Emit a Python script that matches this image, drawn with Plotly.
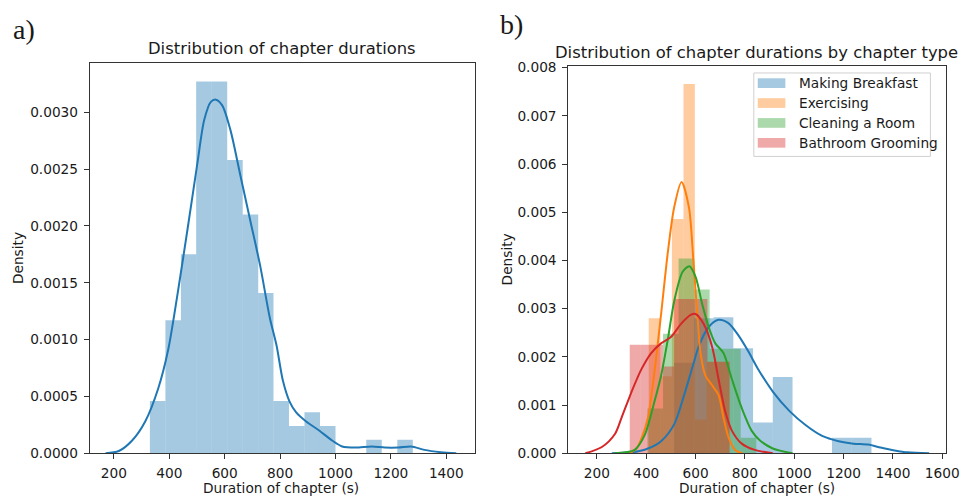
import plotly.graph_objects as go

# ---------------- panel a) all chapters ----------------
all_edges = [330, 386, 442, 497, 553, 609, 665, 721, 776, 832, 888, 944,
             1000, 1055, 1111, 1167, 1223, 1279]
all_density = [0.00046, 0.00117, 0.00175, 0.00327, 0.00327, 0.00258, 0.00210,
               0.00141, 0.00046, 0.00024, 0.00036, 0.00024, 0.0, 0.0, 0.00012,
               0.0, 0.00012]
all_kde_x = [170, 218, 265, 313, 360, 396, 431, 467, 502, 526, 550, 568, 591,
             621, 656, 692, 728, 763, 787, 810, 835, 858, 894, 941, 989, 1024,
             1072, 1131, 1178, 1226, 1273, 1321, 1380, 1436]
all_kde_y = [0.0, 0.00002, 0.00011, 0.00028, 0.00057, 0.00091, 0.00142, 0.00199,
             0.00256, 0.00293, 0.00309, 0.00311, 0.00306, 0.00284, 0.00245,
             0.00205, 0.00165, 0.00119, 0.00095, 0.00064, 0.00045, 0.00036,
             0.00028, 0.00020, 0.00011, 0.00006, 0.00005, 0.00006, 0.00005,
             0.00005, 0.00006, 0.00003, 0.00001, 0.0]

# ---------------- panel b) per chapter type ----------------
types = ["Making Breakfast", "Exercising", "Cleaning a Room", "Bathroom Grooming"]
colors = ["31,119,180", "255,127,14", "44,160,44", "214,39,40"]

breakfast_edges = [513, 593, 673, 753, 833, 913, 993, 1073, 1153, 1233, 1313]
breakfast_density = [0.00188, 0.0028, 0.00282, 0.00218, 0.00064, 0.00158,
                     0.0, 0.0, 0.00032, 0.00032]
breakfast_kde_x = [260, 340, 407, 460, 513, 553, 588, 613, 653, 693, 733, 773,
                   813, 853, 913, 980, 1047, 1113, 1180, 1240, 1300, 1350, 1407,
                   1460, 1547]
breakfast_kde_y = [0.0, 0.00002, 0.0001, 0.00025, 0.0006, 0.0012, 0.0018,
                   0.00222, 0.00262, 0.00277, 0.0027, 0.00245, 0.00212, 0.00175,
                   0.00128, 0.00088, 0.00058, 0.00036, 0.00025, 0.0002, 0.00018,
                   0.00012, 0.00006, 0.00002, 0.0]

exercise_edges = [410, 457, 504, 551, 597, 644, 691, 737]
exercise_density = [0.0028, 0.0016, 0.00486, 0.00766, 0.0007, 0.0019, 0.0019]
exercise_kde_x = [330, 360, 380, 407, 433, 460, 487, 513, 543, 573, 591, 607,
                  620, 640, 667, 693, 713, 733, 760, 790]
exercise_kde_y = [0.0, 0.0001, 0.0003, 0.00074, 0.00168, 0.00288, 0.00415,
                  0.0051, 0.00563, 0.0051, 0.0040, 0.00288, 0.00208, 0.00161,
                  0.00141, 0.00121, 0.00074, 0.00034, 0.00007, 0.0]

cleaning_edges = [405, 468, 531, 594, 657, 720, 783, 846]
cleaning_density = [0.00093, 0.00248, 0.00404, 0.0034, 0.00217, 0.00217, 0.00032]
cleaning_kde_x = [270, 353, 393, 433, 460, 487, 513, 547, 575, 600, 627, 653,
                  680, 713, 747, 787, 827, 860, 913, 993]
cleaning_kde_y = [0.0, 0.00007, 0.00037, 0.00107, 0.00161, 0.00235, 0.00315,
                  0.00376, 0.00388, 0.00366, 0.00309, 0.00262, 0.00228, 0.00208,
                  0.00154, 0.00094, 0.00047, 0.00027, 0.0001, 0.0]

grooming_edges = [333, 378, 423, 468, 513, 558, 603, 648, 693, 738]
grooming_density = [0.00225, 0.00225, 0.00225, 0.0018, 0.0032, 0.0032, 0.0032,
                    0.0019, 0.0019]
grooming_kde_x = [153, 220, 273, 300, 340, 380, 420, 460, 500, 540, 580, 600,
                  633, 667, 693, 720, 747, 787, 840, 913]
grooming_kde_y = [0.0, 0.00013, 0.0004, 0.00074, 0.00127, 0.00174, 0.00208,
                  0.00228, 0.00241, 0.00268, 0.00287, 0.00289, 0.00268, 0.00221,
                  0.00154, 0.00087, 0.00047, 0.0002, 0.00007, 0.0]

type_edges = [breakfast_edges, exercise_edges, cleaning_edges, grooming_edges]
type_density = [breakfast_density, exercise_density, cleaning_density, grooming_density]
type_kde_x = [breakfast_kde_x, exercise_kde_x, cleaning_kde_x, grooming_kde_x]
type_kde_y = [breakfast_kde_y, exercise_kde_y, cleaning_kde_y, grooming_kde_y]

FONT = "DejaVu Sans"
TXT = "#1a1a1a"
AX = "#333333"
W, H = 974, 503


def hist_bar(edges, dens, rgb, xa, ya):
    centers = [(a + b) / 2 for a, b in zip(edges[:-1], edges[1:])]
    widths = [b - a for a, b in zip(edges[:-1], edges[1:])]
    return go.Bar(x=centers, y=dens, width=widths, xaxis=xa, yaxis=ya,
                  marker=dict(color=f"rgba({rgb},0.4)", line=dict(width=0)),
                  showlegend=False, hoverinfo="skip")


def kde_line(xs, ys, rgb, xa, ya):
    return go.Scatter(x=xs, y=ys, mode="lines", xaxis=xa, yaxis=ya,
                      line=dict(color=f"rgb({rgb})", width=2, shape="spline",
                                smoothing=0.8),
                      showlegend=False, hoverinfo="skip")


fig = go.Figure()
fig.add_trace(hist_bar(all_edges, all_density, colors[0], "x", "y"))
fig.add_trace(kde_line(all_kde_x, all_kde_y, colors[0], "x", "y"))
for e, d, kx, ky, c in zip(type_edges, type_density, type_kde_x, type_kde_y, colors):
    fig.add_trace(hist_bar(e, d, c, "x2", "y2"))
    fig.add_trace(kde_line(kx, ky, c, "x2", "y2"))

axis_common = dict(showgrid=False, zeroline=False, showline=True, mirror=True,
                   linecolor=AX, linewidth=1, ticks="outside", ticklen=5,
                   tickcolor=AX, tickwidth=1,
                   tickfont=dict(family=FONT, size=13.7, color=TXT))
xaxis_common = dict(axis_common, ticklabelstandoff=2)
yaxis_common = dict(axis_common, ticklabelstandoff=3)

px_x = lambda p: p / W
px_y = lambda p: 1 - p / H

fig.update_layout(
    width=W, height=H, margin=dict(l=0, r=0, t=0, b=0),
    paper_bgcolor="white", plot_bgcolor="white", barmode="overlay",
    xaxis=dict(domain=[px_x(91), px_x(481)], range=[113, 1502],
               tickvals=[200, 400, 600, 800, 1000, 1200, 1400], anchor="y",
               **xaxis_common),
    yaxis=dict(domain=[px_y(460), px_y(58)], range=[0, 0.00343],
               tickvals=[0, 0.0005, 0.001, 0.0015, 0.002, 0.0025, 0.003],
               tickformat=".4f", anchor="x", **yaxis_common),
    xaxis2=dict(domain=[px_x(576), px_x(959)], range=[84, 1616],
                tickvals=[200, 400, 600, 800, 1000, 1200, 1400, 1600],
                anchor="y2", **xaxis_common),
    yaxis2=dict(domain=[px_y(460), px_y(61)], range=[0, 0.00803],
                tickvals=[0, 0.001, 0.002, 0.003, 0.004, 0.005, 0.006, 0.007, 0.008],
                tickformat=".3f", anchor="x2", **yaxis_common),
)

ann = []


def text(x, y, s, size=13.7, angle=0, family=FONT, xanchor="center", yanchor="middle"):
    ann.append(dict(x=px_x(x), y=px_y(y), xref="paper", yref="paper", text=s,
                    showarrow=False, textangle=angle, xanchor=xanchor,
                    yanchor=yanchor, font=dict(family=family, size=size, color=TXT)))


# panel labels, titles and axis labels
text(24, 23, "a)", size=28, family="Liberation Serif")
text(518, 18, "b)", size=28, family="Liberation Serif")
text(286, 43, "Distribution of chapter durations", size=16.4)
text(767, 47, "Distribution of chapter durations by chapter type", size=16.4)
text(285, 485, "Duration of chapter (s)", yanchor="top")
text(767, 485, "Duration of chapter (s)", yanchor="top")
text(19, 259, "Density", angle=-90)
text(514, 260, "Density", angle=-90)

# legend for panel b
shapes = [dict(type="rect", xref="paper", yref="paper",
               x0=px_x(764), x1=px_x(943), y0=px_y(154), y1=px_y(68),
               line=dict(color="#d0d0d0", width=1), fillcolor="rgba(255,255,255,0.8)",
               layer="above")]
row_y = [78.5, 99, 119.5, 140]
for name, c, ry in zip(types, colors, row_y):
    shapes.append(dict(type="rect", xref="paper", yref="paper",
                       x0=px_x(768), x1=px_x(796), y0=px_y(ry + 5), y1=px_y(ry - 5),
                       line=dict(width=0), fillcolor=f"rgba({c},0.4)", layer="above"))
    text(808, ry, name, xanchor="left")

fig.update_layout(annotations=ann, shapes=shapes)
fig.write_html("out.html")
